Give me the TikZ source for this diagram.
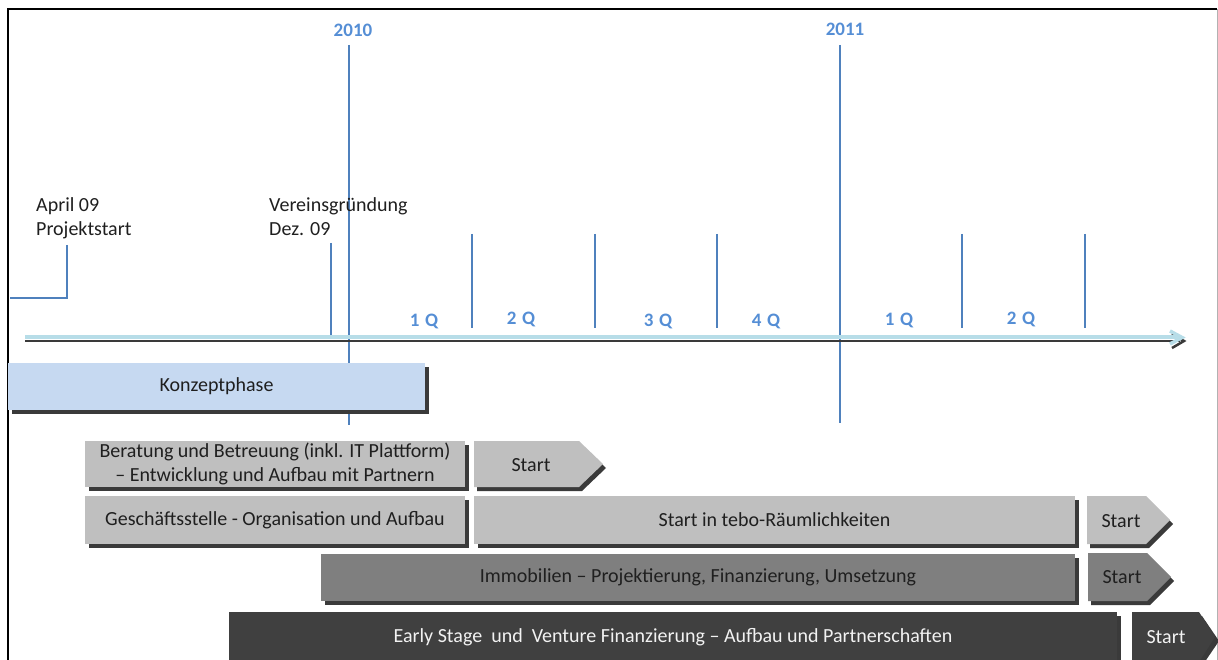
\documentclass[tikz,border=0pt]{standalone}
\usepackage{fontspec}
\setmainfont{Carlito}
\usetikzlibrary{arrows.meta}
\definecolor{blueline}{HTML}{4F81BD}
\definecolor{bluetext}{HTML}{558ED5}
\definecolor{konzfill}{HTML}{C6D9F1}
\definecolor{lightgray}{HTML}{BFBFBF}
\definecolor{midgray}{HTML}{7F7F7F}
\definecolor{darkgray}{HTML}{404040}
\definecolor{shadowc}{HTML}{3A3A3A}
\definecolor{axiscol}{HTML}{B7DDE8}
\definecolor{txtc}{HTML}{1F1F1F}
\begin{document}
\begin{tikzpicture}[x=1pt,y=-1pt,
  boxnode/.style={inner sep=0pt, outer sep=0pt, anchor=north west, text=txtc,
    font=\fontsize{20}{24}\selectfont, align=center},
  lbl/.style={inner sep=0pt, text=txtc, font=\fontsize{20}{24}\selectfont, align=left, anchor=west},
  yearlbl/.style={inner sep=0pt, text=bluetext, font=\fontsize{19}{22}\selectfont\bfseries},
  qlbl/.style={inner sep=0pt, text=bluetext, font=\fontsize{19}{22}\selectfont\bfseries\addfontfeatures{LetterSpace=6}},
  bline/.style={draw=blueline, line width=1.5pt},
  starttxt/.style={inner sep=0pt, text=txtc, font=\fontsize{20}{24}\selectfont},
  shadowfill/.style={fill=shadowc}
]
\useasboundingbox (0,0) rectangle (1218,660);

% frame
\draw[black, line width=2pt] (8,662) -- (8,9.5) -- (1217,9.5);
\draw[gray!60, line width=0.8pt] (1217,9.5) -- (1217,662);

% year lines
\coordinate (y10t) at (349,45);
\coordinate (y10b) at (349,425);
\coordinate (y11t) at (840,45);
\coordinate (y11b) at (840,423);
\draw[bline] (y10t) -- (y10b);
\draw[bline] (y11t) -- (y11b);
\node[yearlbl] (y2010) at (353,30) {2010};
\node[yearlbl] (y2011) at (845,29) {2011};

% quarter ticks
\foreach \x in {472,595,717,962,1085}{
  \draw[bline] (\x,234) -- (\x,328);
}
\node[qlbl] (q1a) at (424,321) {1 Q};
\node[qlbl] (q2a) at (521,319) {2 Q};
\node[qlbl] (q3a) at (658,321) {3 Q};
\node[qlbl] (q4a) at (766,321) {4 Q};
\node[qlbl] (q1b) at (899,320) {1 Q};
\node[qlbl] (q2b) at (1021,319) {2 Q};

% milestone labels
\node[lbl] (april) at (36,218) {April 09\\Projektstart};
\node[lbl] (verein) at (269,217) {Vereinsgründung\\Dez. 09};
\coordinate (apt) at (67,245);
\coordinate (apc) at (67,298);
\coordinate (ape) at (10,298);
\draw[bline] (apt) -- (apc) -- (ape);
\coordinate (vt) at (331,243);
\coordinate (vb) at (331,338);
\draw[bline] (vt) -- (vb);

% axis
\coordinate (axS) at (25,337);
\coordinate (axE) at (1180,337);
\draw[shadowc, line width=2pt] (25,341) -- (1180,341);
\draw[shadowc, line width=2.5pt, line join=miter] (1172,334) -- (1184,341) -- (1172,348);
\draw[axiscol, line width=3.5pt] (axS) -- (axE);
\draw[axiscol, line width=3.5pt, line join=miter] (1170,331) -- (1182,337.5) -- (1170,344);

% Konzeptphase
\fill[shadowfill] (12,367) rectangle (429,414);
\node[boxnode, fill=konzfill, minimum width=417pt, minimum height=47pt] (konz) at (8,363) {\raisebox{-1.5pt}{Konzeptphase}};

% Beratung row
\fill[shadowfill] (89,445) rectangle (469,491);
\node[boxnode, fill=lightgray, minimum width=380pt, minimum height=46pt] (ber) at (85,441)
  {Beratung und Betreuung (inkl. IT Plattform)\\– Entwicklung und Aufbau mit Partnern};
\fill[shadowfill] (477,445) -- (582,445) -- (606,468) -- (582,491) -- (477,491) -- cycle;
\fill[lightgray] (474,441) -- (579,441) -- (603,464) -- (579,487) -- (474,487) -- cycle;
\node[starttxt] (st1) at (531,465) {Start};

% Geschaeftsstelle row
\fill[shadowfill] (89,500) rectangle (469,548);
\node[boxnode, fill=lightgray, minimum width=380pt, minimum height=48pt] (ges) at (85,496)
  {\raisebox{-1.5pt}{Geschäftsstelle - Organisation und Aufbau}};
\fill[shadowfill] (478,500) rectangle (1079,548);
\node[boxnode, fill=lightgray, minimum width=601pt, minimum height=48pt] (tebo) at (474,496)
  {\raisebox{-1.5pt}{Start in tebo-Räumlichkeiten}};
\fill[shadowfill] (1090,500) -- (1149,500) -- (1173,524) -- (1149,548) -- (1090,548) -- cycle;
\fill[lightgray] (1087,496) -- (1146,496) -- (1170,520) -- (1146,544) -- (1087,544) -- cycle;
\node[starttxt] (st2) at (1121,521) {Start};

% Immobilien row
\fill[shadowfill] (325,558) rectangle (1079,605);
\node[boxnode, fill=midgray, minimum width=754pt, minimum height=47pt] (immo) at (321,554)
  {\raisebox{-1.5pt}{Immobilien – Projektierung, Finanzierung, Umsetzung}};
\fill[shadowfill] (1091,557) -- (1150,557) -- (1174,581) -- (1150,605) -- (1091,605) -- cycle;
\fill[midgray] (1088,553) -- (1147,553) -- (1171,577) -- (1147,601) -- (1088,601) -- cycle;
\node[starttxt] (st3) at (1122,577) {Start};

% Early Stage row
\fill[shadowfill] (233,616) rectangle (1121,664);
\node[boxnode, fill=darkgray, text=white!95!black, minimum width=888pt, minimum height=50pt] (early) at (229,612)
  {\raisebox{-1.5pt}{Early Stage~ und~ Venture Finanzierung – Aufbau und Partnerschaften}};
\fill[shadowfill] (1135,616) -- (1202,616) -- (1219,641) -- (1202,666) -- (1135,666) -- cycle;
\fill[darkgray] (1132,612) -- (1199,612) -- (1215,637) -- (1199,662) -- (1132,662) -- cycle;
\node[starttxt, text=white!95!black] (st4) at (1166,637) {Start};
\end{tikzpicture}
\end{document}
